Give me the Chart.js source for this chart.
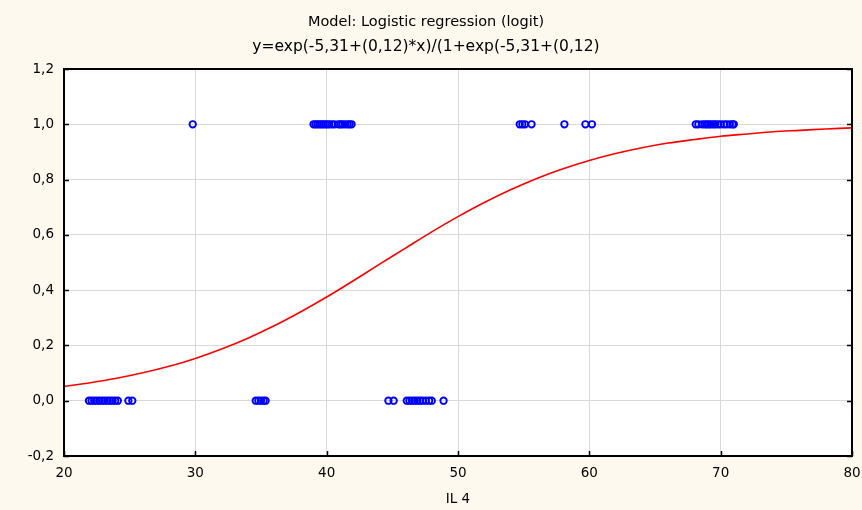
<!DOCTYPE html>
<html>
<head>
<meta charset="utf-8">
<script src="https://cdn.jsdelivr.net/npm/chart.js@4/dist/chart.umd.min.js"></script>
<style>
  html, body { margin: 0; padding: 0; background: #fdf9ee; }
  #wrap { width: 862px; height: 510px; }
</style>
</head>
<body>
<div id="wrap"><canvas id="c" width="862" height="510"></canvas></div>
<script>
// Observations with outcome 1 (x values, IL 4)
const onesX = [29.8,
               39.0, 39.15, 39.3, 39.45, 39.6, 39.75, 39.9, 40.05, 40.2, 40.4, 40.6,
               40.9, 41.05, 41.2, 41.4, 41.6, 41.75, 41.9,
               54.7, 54.9, 55.1, 55.6, 58.1, 59.7, 60.2,
               68.1, 68.3, 68.6, 68.8, 68.95, 69.1, 69.25, 69.45, 69.6, 69.8, 70.0,
               70.25, 70.45, 70.7, 70.9, 71.0];
// Observations with outcome 0
const zerosX = [21.9, 22.1, 22.3, 22.5, 22.7, 22.9, 23.1, 23.3, 23.5, 23.7, 23.9, 24.1,
                24.9, 25.2,
                34.6, 34.8, 35.0, 35.2, 35.35,
                44.7, 45.1,
                46.1, 46.3, 46.5, 46.7, 46.9, 47.1, 47.3, 47.55, 47.8, 48.0,
                48.9];
// Fitted logistic curve
const curveX = [20, 22, 24, 26, 28, 30, 32, 34, 36, 38, 40, 42, 44, 46, 48, 50,
                52, 54, 56, 58, 60, 62, 64, 66, 68, 70, 72, 74, 76, 78, 80];
const curveY = [0.052, 0.065, 0.081, 0.101, 0.125, 0.153, 0.187, 0.226, 0.271, 0.321, 0.375,
                0.433, 0.493, 0.552, 0.611, 0.666, 0.717, 0.763, 0.804, 0.839, 0.869,
                0.894, 0.915, 0.932, 0.945, 0.957, 0.965, 0.973, 0.978, 0.983, 0.987];
// Tick labels
const yTicks = [-0.2, 0.0, 0.2, 0.4, 0.6, 0.8, 1.0, 1.2];
const yTickLabels = ['-0,2', '0,0', '0,2', '0,4', '0,6', '0,8', '1,0', '1,2'];
const xTicks = [20, 30, 40, 50, 60, 70, 80];
const xTickLabels = ['20', '30', '40', '50', '60', '70', '80'];
const titleText = 'Model: Logistic regression (logit)';
const subtitleText = 'y=exp(-5,31+(0,12)*x)/(1+exp(-5,31+(0,12)';
const xTitle = 'IL 4';

const FONT = '"DejaVu Sans", Verdana, sans-serif';

function nearestLabel(v, ticks, labels) {
  let best = 0, d = Infinity;
  ticks.forEach((t, i) => { const dd = Math.abs(t - v); if (dd < d) { d = dd; best = i; } });
  return d < 1e-6 ? labels[best] : '';
}

const framePlugin = {
  id: 'frame',
  beforeDraw(chart) {
    const ctx = chart.ctx, a = chart.chartArea;
    ctx.save();
    ctx.fillStyle = '#fdf9ee';
    ctx.fillRect(0, 0, chart.width, chart.height);
    ctx.fillStyle = '#ffffff';
    ctx.fillRect(a.left, a.top, a.right - a.left, a.bottom - a.top);
    ctx.restore();
  },
  afterDraw(chart) {
    const ctx = chart.ctx, a = chart.chartArea;
    const xs = chart.scales.x, ys = chart.scales.y;
    ctx.save();
    ctx.strokeStyle = '#000000';
    ctx.lineWidth = 2;
    ctx.strokeRect(a.left, a.top, a.right - a.left, a.bottom - a.top);
    ctx.lineWidth = 1.5;
    ctx.beginPath();
    yTicks.forEach(t => {
      const py = Math.round(ys.getPixelForValue(t)) + 0.5;
      ctx.moveTo(a.left, py); ctx.lineTo(a.left + 5, py);
      ctx.moveTo(a.right, py); ctx.lineTo(a.right - 5, py);
    });
    xTicks.forEach(t => {
      const px = Math.round(xs.getPixelForValue(t)) + 0.5;
      ctx.moveTo(px, a.bottom); ctx.lineTo(px, a.bottom - 5);
    });
    ctx.stroke();
    ctx.restore();
  }
};

const pointStyle = {
  borderColor: '#0000ff',
  backgroundColor: 'rgba(0,0,0,0)',
  pointRadius: 3.2,
  pointBorderWidth: 1.9,
  order: 1
};

new Chart(document.getElementById('c'), {
  type: 'scatter',
  data: {
    datasets: [
      {
        type: 'line',
        data: curveX.map((x, i) => ({ x: x, y: curveY[i] })),
        borderColor: '#ff0000',
        borderWidth: 1.6,
        pointRadius: 0,
        fill: false,
        tension: 0.3,
        order: 2
      },
      Object.assign({ data: onesX.map(x => ({ x: x, y: 1 })) }, pointStyle),
      Object.assign({ data: zerosX.map(x => ({ x: x, y: 0 })) }, pointStyle)
    ]
  },
  options: {
    responsive: false,
    animation: false,
    devicePixelRatio: 1,
    layout: { padding: { left: 0, right: 10, top: 0, bottom: 0 } },
    plugins: {
      legend: { display: false },
      tooltip: { enabled: false },
      title: {
        display: true,
        text: titleText,
        color: '#000000',
        font: { family: FONT, size: 14.5, weight: 'normal', lineHeight: '20px' },
        padding: { top: 12, bottom: 5 }
      },
      subtitle: {
        display: true,
        text: subtitleText,
        color: '#000000',
        font: { family: FONT, size: 15.5, weight: 'normal', lineHeight: '20px' },
        padding: { top: 0, bottom: 12 }
      }
    },
    scales: {
      x: {
        type: 'linear',
        min: 20, max: 80,
        afterBuildTicks(scale) { scale.ticks = xTicks.map(v => ({ value: v })); },
        afterFit(scale) { scale.height = 54; scale.paddingLeft = 0; scale.paddingRight = 0; },
        ticks: {
          color: '#000000',
          font: { family: FONT, size: 13.5 },
          padding: 9,
          maxRotation: 0,
          callback: v => nearestLabel(v, xTicks, xTickLabels)
        },
        grid: { color: '#d9d9d9', lineWidth: 1, drawTicks: false },
        border: { display: false },
        title: {
          display: true,
          text: xTitle,
          color: '#000000',
          font: { family: FONT, size: 13.5 },
          padding: { top: 0, bottom: 2 }
        }
      },
      y: {
        type: 'linear',
        min: -0.2, max: 1.2,
        afterBuildTicks(scale) { scale.ticks = yTicks.map(v => ({ value: v })); },
        afterFit(scale) { scale.width = 64; scale.paddingTop = 0; scale.paddingBottom = 0; },
        ticks: {
          color: '#000000',
          font: { family: FONT, size: 13.5 },
          padding: 10,
          callback: v => nearestLabel(v, yTicks, yTickLabels)
        },
        grid: { color: '#d9d9d9', lineWidth: 1, drawTicks: false },
        border: { display: false }
      }
    }
  },
  plugins: [framePlugin]
});
</script>
</body>
</html>
